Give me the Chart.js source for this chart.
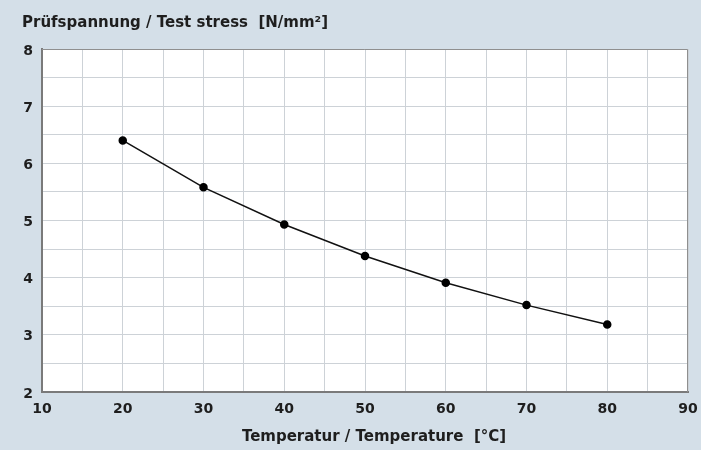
<!DOCTYPE html>
<html>
<head>
<meta charset="utf-8">
<script src="https://cdn.jsdelivr.net/npm/chart.js@4/dist/chart.umd.min.js"></script>
<style>
  html, body { margin: 0; padding: 0; background: #d4dfe8; }
  canvas { display: block; }
</style>
</head>
<body>
<canvas id="stressChart" width="701" height="450"></canvas>
<script>
// Data
const temperatures = [20, 30, 40, 50, 60, 70, 80];
const testStress = [6.4, 5.58, 4.93, 4.38, 3.91, 3.52, 3.18];

const yTitle = "Prüfspannung / Test stress  [N/mm²]";
const xTitle = "Temperatur / Temperature  [°C]";

const FONT = "'DejaVu Sans', sans-serif";

// page background, white plot area, frame and the two axis titles
const frame = {
  id: "frame",
  beforeDraw(chart) {
    const { ctx, chartArea: a } = chart;
    ctx.save();
    ctx.fillStyle = "#d4dfe8";
    ctx.fillRect(0, 0, chart.width, chart.height);
    ctx.fillStyle = "#ffffff";
    ctx.fillRect(a.left, a.top, a.right - a.left, a.bottom - a.top);
    ctx.restore();
  },
  afterDraw(chart) {
    const { ctx, chartArea: a } = chart;
    ctx.save();
    ctx.strokeStyle = "#8f8f8f";
    ctx.lineWidth = 1;
    ctx.beginPath();
    ctx.moveTo(a.left, a.top + 0.5);
    ctx.lineTo(a.right - 0.5, a.top + 0.5);
    ctx.lineTo(a.right - 0.5, a.bottom);
    ctx.stroke();
    ctx.fillStyle = "#1e1e1e";
    ctx.font = "bold 15px " + FONT;
    ctx.textBaseline = "alphabetic";
    ctx.fillText(yTitle, 22, 27);
    ctx.textAlign = "center";
    ctx.fillText(xTitle, 374, 441);
    ctx.restore();
  },
};

const ctx = document.getElementById("stressChart").getContext("2d");
const stressChart = new Chart(ctx, {
  type: "line",
  data: {
    labels: temperatures,
    datasets: [
      {
        data: temperatures.map((t, i) => ({ x: t, y: testStress[i] })),
        borderColor: "#111",
        borderWidth: 1.5,
        pointBackgroundColor: "#000",
        pointBorderColor: "#000",
        pointRadius: 3.5,
        tension: 0,
      },
    ],
  },
  options: {
    responsive: false,
    animation: false,
    layout: { padding: { left: 0, right: 13, top: 49, bottom: 0 } },
    scales: {
      x: {
        type: "linear",
        min: 10,
        max: 90,
        afterFit: (s) => {
          s.height = 58;
          s.paddingLeft = 0;
          s.paddingRight = 0;
        },
        ticks: {
          stepSize: 5,
          padding: 9,
          color: "#1e1e1e",
          font: { family: FONT, size: 14, weight: "bold" },
          callback: (v) => (v % 10 === 0 ? v : ""),
        },
        grid: { color: "#cdd2d7", lineWidth: 1, drawTicks: false },
        border: { color: "#7a7a7a", width: 2 },
      },
      y: {
        min: 2,
        max: 8,
        afterFit: (s) => { s.width = 42; },
        ticks: {
          stepSize: 0.5,
          padding: 9,
          labelOffset: 2,
          color: "#1e1e1e",
          font: { family: FONT, size: 14, weight: "bold" },
          callback: (v) => (Number.isInteger(v) ? v : ""),
        },
        grid: { color: "#cdd2d7", lineWidth: 1, drawTicks: false },
        border: { color: "#7a7a7a", width: 2 },
      },
    },
    plugins: {
      legend: { display: false },
      tooltip: { enabled: false },
    },
  },
  plugins: [frame],
});
</script>
</body>
</html>
